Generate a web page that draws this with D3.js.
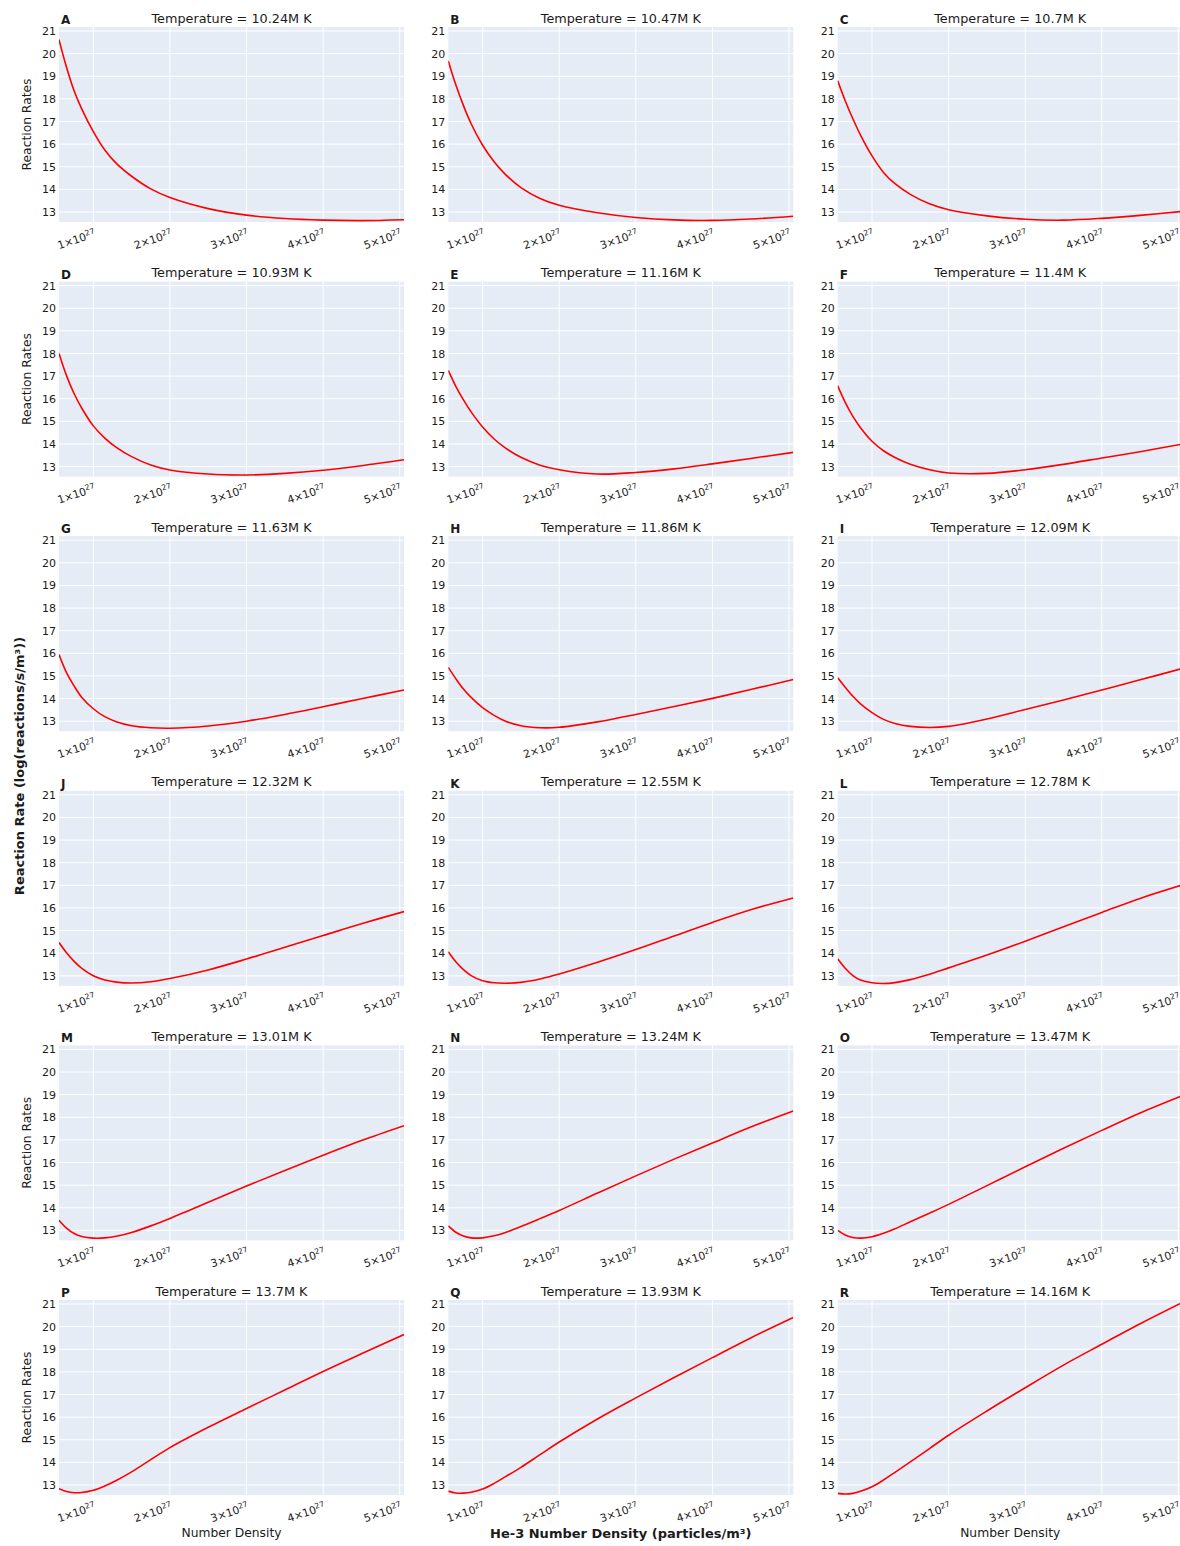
<!DOCTYPE html>
<html><head><meta charset="utf-8">
<script src="https://cdn.jsdelivr.net/npm/d3@7"></script>
<style>
body{margin:0;background:#fff}
svg{display:block}
text{font-family:Verdana,"DejaVu Sans",sans-serif;fill:#1b1b1b}
</style>
</head><body><div id="chart"></div>
<script>
// He-3 number density grid (particles/m^3)
const densities = [5.52e26, 6.5e26, 7.5e26, 8.5e26, 1.0e27, 1.15e27, 1.3e27, 1.5e27, 1.75e27, 2.0e27, 2.5e27, 3.0e27, 3.5e27, 4.0e27, 4.5e27, 5.056e27];

const panelLetters = ["A","B","C","D","E","F","G","H","I","J","K","L","M","N","O","P","Q","R"];
const temperatures = ["10.24","10.47","10.7","10.93","11.16","11.4","11.63","11.86","12.09","12.32","12.55","12.78","13.01","13.24","13.47","13.7","13.93","14.16"];

// log10 reaction rate per panel
const rateA = [20.62,19.40,18.35,17.55,16.55,15.74,15.15,14.58,14.02,13.64,13.15,12.86,12.71,12.64,12.62,12.66];
const rateB = [19.68,18.62,17.70,16.90,15.95,15.22,14.65,14.08,13.60,13.30,12.97,12.76,12.65,12.63,12.69,12.81];
const rateC = [18.80,17.92,17.12,16.40,15.48,14.75,14.25,13.78,13.36,13.10,12.83,12.68,12.64,12.72,12.85,13.03];
const rateD = [18.00,17.02,16.22,15.58,14.80,14.26,13.85,13.44,13.07,12.85,12.67,12.63,12.70,12.84,13.04,13.30];
const rateE = [17.25,16.55,15.95,15.42,14.75,14.22,13.82,13.41,13.06,12.86,12.67,12.74,12.90,13.12,13.36,13.63];
const rateF = [16.57,15.84,15.22,14.72,14.12,13.70,13.40,13.10,12.86,12.72,12.70,12.86,13.10,13.38,13.66,14.00];
const rateG = [15.95,15.15,14.55,14.05,13.55,13.20,12.98,12.80,12.71,12.69,12.79,13.00,13.30,13.64,13.99,14.38];
const rateH = [15.38,14.88,14.42,14.05,13.60,13.26,13.00,12.80,12.71,12.73,12.97,13.30,13.65,14.01,14.40,14.84];
const rateI = [14.92,14.50,14.10,13.77,13.38,13.08,12.90,12.77,12.72,12.77,13.10,13.52,13.94,14.38,14.83,15.33];
const rateJ = [14.47,14.02,13.64,13.33,13.00,12.81,12.72,12.68,12.74,12.88,13.26,13.74,14.26,14.78,15.30,15.84];
const rateK = [14.06,13.62,13.27,13.01,12.78,12.69,12.67,12.71,12.86,13.08,13.60,14.16,14.76,15.36,15.92,16.44];
const rateL = [13.75,13.33,13.01,12.81,12.69,12.66,12.70,12.83,13.07,13.35,13.92,14.53,15.17,15.80,16.42,17.02];
const rateM = [13.45,13.10,12.86,12.73,12.66,12.67,12.74,12.91,13.20,13.53,14.24,14.96,15.65,16.32,16.97,17.63];
const rateN = [13.20,12.92,12.75,12.67,12.67,12.76,12.91,13.17,13.52,13.88,14.65,15.41,16.15,16.86,17.57,18.28];
const rateO = [13.00,12.80,12.69,12.66,12.72,12.87,13.07,13.38,13.76,14.15,14.98,15.81,16.63,17.42,18.19,18.96];
const rateP = [12.84,12.71,12.66,12.67,12.77,12.96,13.20,13.58,14.12,14.65,15.55,16.38,17.20,18.02,18.80,19.65];
const rateQ = [12.73,12.65,12.64,12.68,12.82,13.07,13.37,13.78,14.34,14.90,15.92,16.85,17.75,18.63,19.50,20.40];
const rateR = [12.63,12.60,12.63,12.72,12.92,13.22,13.56,14.02,14.61,15.20,16.27,17.30,18.30,19.22,20.13,21.08];
const rateSeries = [rateA,rateB,rateC,rateD,rateE,rateF,rateG,rateH,rateI,rateJ,rateK,rateL,rateM,rateN,rateO,rateP,rateQ,rateR];

const yTicks = [13,14,15,16,17,18,19,20,21];
const yRange = [12.558, 21.177];
const xTicks = [1e27,2e27,3e27,4e27,5e27];

const W = 1180, H = 1546;
const colLeft = [59, 448.3, 837.7];
const plotW = 345, plotH = 195;
const rowTop0 = 27, rowStep = 254.6;

const svg = d3.select("#chart").append("svg").attr("width", W).attr("height", H);

const x = d3.scaleLinear().domain([densities[0], densities[densities.length-1]]).range([0, plotW]);
const y = d3.scaleLinear().domain(yRange).range([plotH, 0]);

const line = d3.line().x((d,i)=>x(densities[i])).y(d=>y(d)).curve(d3.curveCatmullRom.alpha(0.5));

svg.append("defs").append("clipPath").attr("id","clip")
  .append("rect").attr("width", plotW).attr("height", plotH);

rateSeries.forEach((vals, idx) => {
  const r = Math.floor(idx/3), c = idx % 3;
  const g = svg.append("g").attr("transform", `translate(${colLeft[c]},${rowTop0 + r*rowStep})`);
  g.append("rect").attr("width", plotW).attr("height", plotH).attr("fill", "#E5ECF6");

  // grid
  g.selectAll(".gy").data(yTicks).enter().append("line")
    .attr("x1",0).attr("x2",plotW).attr("y1",d=>y(d)).attr("y2",d=>y(d))
    .attr("stroke","#fff").attr("stroke-width",1);
  g.selectAll(".gx").data(xTicks).enter().append("line")
    .attr("y1",0).attr("y2",plotH).attr("x1",d=>x(d)).attr("x2",d=>x(d))
    .attr("stroke","#fff").attr("stroke-width",1);

  // y axis labels
  const ya = g.append("g").call(d3.axisLeft(y).tickValues(yTicks).tickSize(0).tickPadding(3));
  ya.select(".domain").remove();
  ya.selectAll("text").style("font-size","11px").attr("fill","#1b1b1b").style("font-family","Verdana, 'DejaVu Sans', sans-serif");

  // x axis labels (rotated, with superscript)
  const xa = g.append("g").attr("transform", `translate(0,${plotH})`);
  xTicks.forEach(t => {
    const mant = Math.round(t/1e27);
    const tx = xa.append("text")
      .attr("transform", `translate(${x(t)+3},${15}) rotate(-18)`)
      .attr("text-anchor","end")
      .style("font-size","10.8px");
    tx.append("tspan").text(mant + "×10");
    tx.append("tspan").attr("dy","-0.55em").style("font-size","7.6px").text("27");
  });

  // line
  g.append("path").datum(vals).attr("d", line).attr("fill","none")
    .attr("stroke","red").attr("stroke-width",1.6).attr("clip-path","url(#clip)");

  // title
  g.append("text").attr("x", plotW/2).attr("y", -4.5).attr("text-anchor","middle")
    .style("font-size","12.8px").text(`Temperature = ${temperatures[idx]}M K`);
  // panel letter
  g.append("text").attr("x", 2).attr("y", -3).style("font-size","12px").style("font-weight","bold")
    .text(panelLetters[idx]);

  if (c === 0 && (r === 0 || r === 1 || r === 4 || r === 5)) {
    g.append("text").attr("transform", `translate(${-28},${plotH/2}) rotate(-90)`)
      .attr("text-anchor","middle").style("font-size","12.3px").text("Reaction Rates");
  }
  if (r === 5 && c !== 1) {
    g.append("text").attr("x", plotW/2).attr("y", plotH + 42).attr("text-anchor","middle")
      .style("font-size","12.3px").text("Number Density");
  }
});

svg.append("text").attr("transform","translate(24,766) rotate(-90)").attr("text-anchor","middle")
  .style("font-size","13px").style("font-weight","bold").text("Reaction Rate (log(reactions/s/m³))");
svg.append("text").attr("x", colLeft[1] + plotW/2).attr("y", 1538).attr("text-anchor","middle")
  .style("font-size","13px").style("font-weight","bold").text("He-3 Number Density (particles/m³)");
</script>
</body></html>
